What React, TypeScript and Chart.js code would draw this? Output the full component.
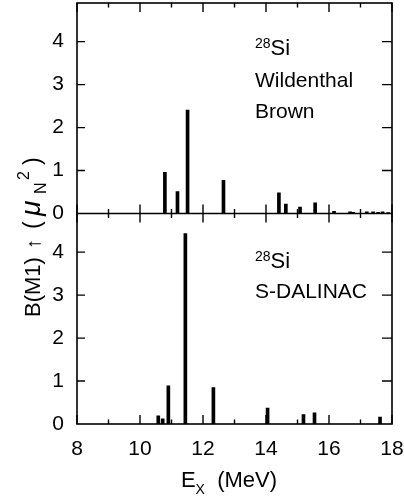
import React, { useEffect, useRef } from 'react';
import { Chart, registerables } from 'chart.js';

Chart.register(...registerables);

// Shell-model calculation (Wildenthal-Brown): excitation energy (MeV) and B(M1) (mu_N^2)
const theoryE = [10.79, 11.19, 11.51, 12.65, 14.41, 14.63, 15.08, 15.56, 16.16, 16.67, 16.77, 17.2, 17.4, 17.56, 17.7, 17.88];
const theoryB = [0.96, 0.51, 2.41, 0.77, 0.48, 0.22, 0.15, 0.25, 0.05, 0.04, 0.03, 0.04, 0.04, 0.03, 0.04, 0.02];

// S-DALINAC measurement
const exptE = [10.58, 10.72, 10.9, 11.44, 12.33, 14.05, 15.19, 15.54, 17.62];
const exptB = [0.19, 0.12, 0.89, 4.43, 0.85, 0.37, 0.22, 0.26, 0.16];

const xMin = 8;
const xMax = 18;
const yMax = 4.9;
const topLabels = ['Wildenthal', 'Brown'];
const bottomLabels = ['S-DALINAC'];
const massNumber = '28';
const element = 'Si';

const FONT = 'Liberation Sans, Arial, sans-serif';

type Piece = { t: string; size: number; dy: number; italic?: boolean; at?: number };

function drawPieces(ctx: CanvasRenderingContext2D, pieces: Piece[], x: number, y: number, align: 'left' | 'center') {
  let total = 0;
  const widths = pieces.map((p) => {
    ctx.font = `${p.italic ? 'italic ' : ''}${p.size}px ${FONT}`;
    const w = ctx.measureText(p.t).width;
    total += w;
    return w;
  });
  let cx = align === 'center' ? x - total / 2 : x;
  pieces.forEach((p, i) => {
    ctx.font = `${p.italic ? 'italic ' : ''}${p.size}px ${FONT}`;
    const px = p.at !== undefined ? x + p.at : cx;
    ctx.fillText(p.t, px, y + p.dy);
    cx = px + widths[i];
  });
}

const framePlugin = {
  id: 'frame',
  afterDraw(chart: any) {
    const ctx: CanvasRenderingContext2D = chart.ctx;
    const { left, right, top, bottom } = chart.chartArea;
    const xs = chart.scales.x;
    const yT = chart.scales.yTop;
    const mid = yT.getPixelForValue(0);
    ctx.save();
    ctx.strokeStyle = '#000';
    ctx.lineWidth = 1.6;
    ctx.strokeRect(left, top, right - left, bottom - top);
    ctx.beginPath();
    ctx.moveTo(left, mid);
    ctx.lineTo(right, mid);
    ctx.stroke();
    ctx.lineWidth = 1.4;
    ctx.beginPath();
    for (let v = xMin; v <= xMax; v++) {
      const px = xs.getPixelForValue(v);
      const len = v % 2 === 0 ? 9 : 4.5;
      ctx.moveTo(px, top);
      ctx.lineTo(px, top + len);
      ctx.moveTo(px, mid - len);
      ctx.lineTo(px, mid + len);
      ctx.moveTo(px, bottom);
      ctx.lineTo(px, bottom - len);
    }
    ['yTop', 'yBot'].forEach((id) => {
      const s = chart.scales[id];
      for (let v = 1; v <= 4; v++) {
        const py = s.getPixelForValue(v);
        ctx.moveTo(left, py);
        ctx.lineTo(left + 8, py);
        ctx.moveTo(right, py);
        ctx.lineTo(right - 10, py);
      }
    });
    ctx.stroke();

    ctx.fillStyle = '#000';
    ctx.textBaseline = 'alphabetic';
    ctx.textAlign = 'left';
    const tx = 255;
    // top panel annotation
    drawPieces(ctx, [
      { t: massNumber, size: 14, dy: -7 },
      { t: element, size: 22, dy: 0 },
    ], tx, 55, 'left');
    topLabels.forEach((l, i) => drawPieces(ctx, [{ t: l, size: 21, dy: 0 }], tx, 87 + i * 31, 'left'));
    // bottom panel annotation
    drawPieces(ctx, [
      { t: massNumber, size: 14, dy: -7 },
      { t: element, size: 22, dy: 0 },
    ], tx, 268, 'left');
    bottomLabels.forEach((l, i) => drawPieces(ctx, [{ t: l, size: 21, dy: 0 }], tx, 298 + i * 31, 'left'));

    // x title
    drawPieces(ctx, [
      { t: 'E', size: 22, dy: 0 },
      { t: 'X', size: 14, dy: 7 },
      { t: '  (MeV)', size: 22, dy: 0 },
    ], 229, 487, 'center');

    // y title (rotated), starts at screen y=317 and runs upward
    ctx.save();
    ctx.translate(32, 317);
    ctx.rotate(-Math.PI / 2);
    drawPieces(ctx, [
      { t: 'B(M1)', size: 22, dy: 0, at: 0 },
      { t: '\u2191', size: 20, dy: 0, at: 68 },
      { t: '(', size: 23, dy: 0, at: 88 },
      { t: '\u03bc', size: 28, dy: 0, italic: true, at: 101 },
      { t: 'N', size: 16, dy: 6, at: 123 },
      { t: '2', size: 16, dy: -11, at: 137 },
      { t: ')', size: 23, dy: 0, at: 152 },
    ], 0, 8, 'left');
    ctx.restore();
    ctx.restore();
  },
};

export default function App() {
  const ref = useRef<HTMLCanvasElement>(null);
  useEffect(() => {
    if (!ref.current) return;
    const tickFont = { family: FONT, size: 21 };
    const yAxis = (stackWeight: number) => ({
      type: 'linear' as const,
      position: 'left' as const,
      stack: 'panels',
      stackWeight,
      min: 0,
      max: yMax,
      grid: { display: false },
      border: { display: false },
      ticks: { stepSize: 1, includeBounds: false, padding: 5, color: '#000', font: tickFont },
      afterFit: (s: any) => {
        s.width = 77;
        s.paddingTop = 0;
        s.paddingBottom = 0;
      },
    });
    const chart = new Chart(ref.current, {
      type: 'bar',
      data: {
        datasets: [
          {
            label: 'Wildenthal-Brown',
            data: theoryE.map((e, i) => ({ x: e, y: theoryB[i] })),
            yAxisID: 'yTop',
            backgroundColor: '#000',
            barThickness: 3,
            grouped: false,
          } as any,
          {
            label: 'S-DALINAC',
            data: exptE.map((e, i) => ({ x: e, y: exptB[i] })),
            yAxisID: 'yBot',
            backgroundColor: '#000',
            barThickness: 3,
            grouped: false,
          } as any,
        ],
      },
      options: {
        responsive: false,
        animation: false,
        layout: { padding: { top: 3, right: 12, left: 0, bottom: 0 } },
        plugins: { legend: { display: false }, tooltip: { enabled: false } },
        scales: {
          x: {
            type: 'linear',
            min: xMin,
            max: xMax,
            offset: false,
            grid: { display: false },
            border: { display: false },
            ticks: { stepSize: 2, padding: 5, maxRotation: 0, color: '#000', font: tickFont },
            afterFit: (s: any) => {
              s.height = 75;
              s.paddingLeft = 0;
              s.paddingRight = 0;
            },
          },
          yBot: yAxis(1),
          yTop: yAxis(1),
        } as any,
      },
      plugins: [framePlugin],
    });
    return () => chart.destroy();
  }, []);
  return (
    <div style={{ position: 'absolute', left: 0, top: 0, width: 404, height: 499, background: '#fff' }}>
      <canvas ref={ref} width={404} height={499} style={{ display: 'block' }} />
    </div>
  );
}
